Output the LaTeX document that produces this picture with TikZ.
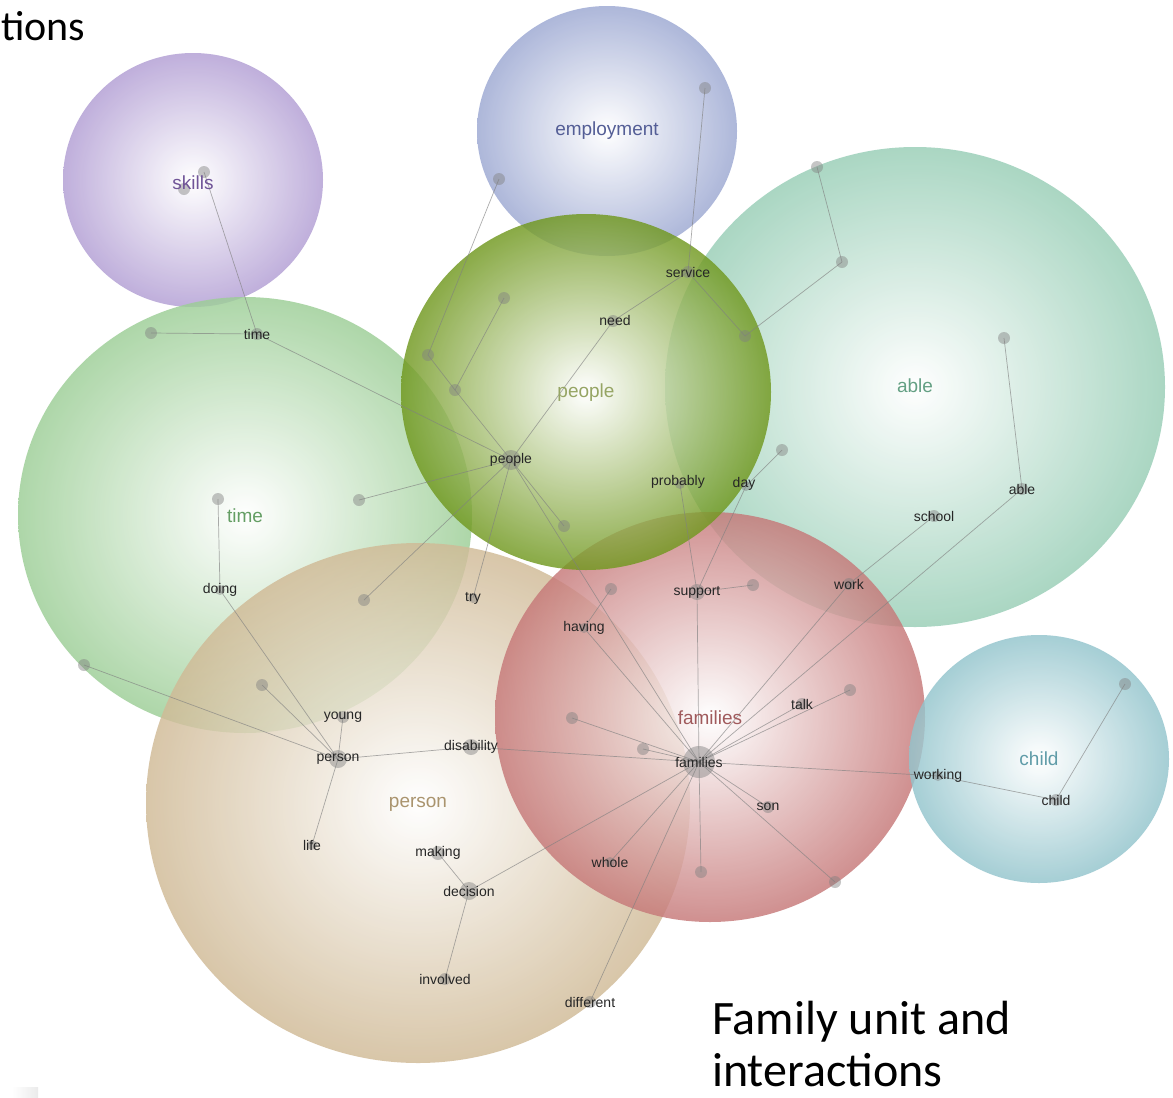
\documentclass[tikz,border=0pt]{standalone}
\usepackage{fontspec}
\setmainfont{Liberation Sans}
\newfontfamily\slidefont{Carlito}
\usepackage{xcolor}

% bubble colours and their label colours
\definecolor{skillsc}{RGB}{178,158,212}
\definecolor{employc}{RGB}{156,168,210}
\definecolor{ablec}{RGB}{152,206,182}
\definecolor{timec}{RGB}{156,206,150}
\definecolor{peoplec}{RGB}{112,152,30}
\definecolor{personc}{RGB}{208,186,150}
\definecolor{familyc}{RGB}{198,120,120}
\definecolor{childc}{RGB}{146,196,204}
\definecolor{skillsd}{RGB}{112,84,152}
\definecolor{employd}{RGB}{84,94,150}
\definecolor{abled}{RGB}{100,160,132}
\definecolor{timed}{RGB}{100,158,100}
\definecolor{peopled}{RGB}{150,165,100}
\definecolor{persond}{RGB}{170,148,110}
\definecolor{familyd}{RGB}{160,90,92}
\definecolor{childd}{RGB}{96,156,168}

\begin{document}
\begin{tikzpicture}[x=1pt, y=-1pt,
    bubble/.style={shading=radial, inner color=white, outer color=#1, fill opacity=0.82},
    cluster/.style={font=\fontsize{19}{19}\selectfont, inner sep=0pt},
    term/.style={font=\fontsize{14}{14}\selectfont, inner sep=0pt, text=black!85},
    slide/.style={font=\slidefont\fontsize{48}{48}\selectfont, inner sep=0pt},
    link/.style={draw=black!50, line width=0.7pt, draw opacity=0.65},
    dot/.style={fill=black!50, fill opacity=0.45}]

    \useasboundingbox (0,0) rectangle (1173,1098);
    \fill[white] (0,0) rectangle (1173,1098);

    % Bubbles
    \shade[bubble=skillsc] (193,180) ellipse[x radius=130pt, y radius=127pt];
    \shade[bubble=employc] (607,131) ellipse[x radius=130pt, y radius=125pt];
    \shade[bubble=timec] (245,515) ellipse[x radius=227pt, y radius=218pt];
    \shade[bubble=ablec] (915,387) ellipse[x radius=250pt, y radius=240pt];
    \shade[bubble=personc] (418,803) ellipse[x radius=272pt, y radius=260pt];
    \shade[bubble=familyc] (710,717) ellipse[x radius=215pt, y radius=205pt];
    \shade[bubble=peoplec] (586,392) ellipse[x radius=185pt, y radius=178pt];
    \shade[bubble=childc] (1039,759) ellipse[x radius=130pt, y radius=124pt];

    % Term positions
    \coordinate (sk1) at (204,172);
    \coordinate (sk2) at (184,189);
    \coordinate (wtime) at (257,334);
    \coordinate (t1) at (151,333);
    \coordinate (emp1) at (499,179);
    \coordinate (emp2) at (705,88);
    \coordinate (pp1) at (428,355);
    \coordinate (pp2) at (455,390);
    \coordinate (pp3) at (504,298);
    \coordinate (pp4) at (564,526);
    \coordinate (need) at (613,321);
    \coordinate (service) at (688,272);
    \coordinate (ab1) at (745,336);
    \coordinate (ab2) at (842,262);
    \coordinate (ab3) at (817,167);
    \coordinate (ab4) at (1004,338);
    \coordinate (wpeople) at (511,460);
    \coordinate (tm1) at (218,499);
    \coordinate (tm2) at (359,500);
    \coordinate (tm3) at (364,600);
    \coordinate (tm4) at (262,685);
    \coordinate (tm5) at (84,665);
    \coordinate (try) at (473,598);
    \coordinate (probably) at (680,484);
    \coordinate (day) at (746,486);
    \coordinate (dy1) at (782,450);
    \coordinate (support) at (697,592);
    \coordinate (sp1) at (753,585);
    \coordinate (hv1) at (611,589);
    \coordinate (having) at (584,628);
    \coordinate (doing) at (220,590);
    \coordinate (young) at (343,717);
    \coordinate (wperson) at (338,759);
    \coordinate (disability) at (471,747);
    \coordinate (life) at (312,845);
    \coordinate (making) at (438,853);
    \coordinate (decision) at (469,891);
    \coordinate (involved) at (445,979);
    \coordinate (different) at (590,1002);
    \coordinate (whole) at (610,862);
    \coordinate (wfamilies) at (699,762);
    \coordinate (fm1) at (572,718);
    \coordinate (fm2) at (643,749);
    \coordinate (fm3) at (701,872);
    \coordinate (fm4) at (835,882);
    \coordinate (fm5) at (850,690);
    \coordinate (son) at (768,807);
    \coordinate (talk) at (802,704);
    \coordinate (work) at (849,584);
    \coordinate (school) at (934,516);
    \coordinate (wable) at (1022,489);
    \coordinate (working) at (938,776);
    \coordinate (wchild) at (1056,800);
    \coordinate (ch1) at (1125,684);

    % Links
    \foreach \a/\b in {sk1/wtime, t1/wtime, wtime/wpeople, emp1/pp1, pp1/pp2, pp3/pp2,
        pp2/wpeople, emp2/service, service/need, need/wpeople, service/ab1, ab1/ab2,
        ab2/ab3, tm2/wpeople, tm3/wpeople, try/wpeople, pp4/wpeople, wpeople/wfamilies,
        probably/support, dy1/day, day/support, support/sp1, support/wfamilies,
        hv1/having, having/wfamilies, tm1/doing, doing/wperson, tm4/wperson,
        tm5/wperson, young/wperson, life/wperson, wperson/disability,
        disability/wfamilies, making/decision, decision/involved, decision/wfamilies,
        wfamilies/whole, wfamilies/different, wfamilies/fm1, wfamilies/fm2,
        wfamilies/fm3, wfamilies/fm4, wfamilies/son, wfamilies/talk, wfamilies/fm5,
        wfamilies/work, work/school, wfamilies/wable, ab4/wable, wfamilies/working,
        working/wchild, wchild/ch1}
        \draw[link] (\a) -- (\b);

    % Dots
    \foreach \p/\r in {sk1/6, sk2/6, wtime/6, t1/6, emp1/6, emp2/6, pp1/6, pp2/6,
        pp3/6, pp4/6, need/6, service/6, ab1/6, ab2/6, ab3/6, ab4/6, wpeople/10,
        tm1/6, tm2/6, tm3/6, tm4/6, tm5/6, try/5, probably/5, day/5, dy1/6,
        support/8, sp1/6, hv1/6, having/5, doing/5, young/6, wperson/9,
        disability/8, life/5, making/7, decision/9, involved/6, different/6,
        whole/5, wfamilies/16, fm1/6, fm2/6, fm3/6, fm4/6, fm5/6, son/6, talk/6,
        work/6, school/6, wable/6, working/5, wchild/6, ch1/6}
        \fill[dot] (\p) circle[radius=\r pt];

    % Bubble labels
    \node[cluster, text=skillsd] (lskills) at (193,183) {skills};
    \node[cluster, text=employd] (lemploy) at (607,131) {employment};
    \node[cluster, text=abled] (lable) at (915,386) {able};
    \node[cluster, text=timed] (ltime) at (245,516) {time};
    \node[cluster, text=peopled] (lpeople) at (586,393) {people};
    \node[cluster, text=persond] (lperson) at (418,804) {person};
    \node[cluster, text=familyd] (lfamilies) at (710,718) {families};
    \node[cluster, text=childd] (lchild) at (1039,759) {child};

    % Term labels
    \node[term] (xtime) at (wtime) {time};
    \node[term] (xneed) at (615,320) {need};
    \node[term] (xservice) at (service) {service};
    \node[term] (xpeople) at (wpeople) {people};
    \node[term] (xprobably) at (678,482) {probably};
    \node[term] (xday) at (744,484) {day};
    \node[term] (xtry) at (try) {try};
    \node[term] (xsupport) at (support) {support};
    \node[term] (xhaving) at (having) {having};
    \node[term] (xdoing) at (doing) {doing};
    \node[term] (xyoung) at (young) {young};
    \node[term] (xperson) at (wperson) {person};
    \node[term] (xdisability) at (disability) {disability};
    \node[term] (xlife) at (life) {life};
    \node[term] (xmaking) at (making) {making};
    \node[term] (xdecision) at (decision) {decision};
    \node[term] (xinvolved) at (involved) {involved};
    \node[term] (xdifferent) at (different) {different};
    \node[term] (xwhole) at (whole) {whole};
    \node[term] (xfamilies) at (wfamilies) {families};
    \node[term] (xson) at (son) {son};
    \node[term] (xtalk) at (talk) {talk};
    \node[term] (xwork) at (work) {work};
    \node[term] (xschool) at (school) {school};
    \node[term] (xable) at (wable) {able};
    \node[term] (xworking) at (working) {working};
    \node[term] (xchild) at (wchild) {child};

    % Slide text
    \node[slide, font=\slidefont\fontsize{42}{42}\selectfont, anchor=base west] (tions) at (1,40) {tions};
    \node[slide, anchor=base west] (caption1) at (712,1034) {Family unit and};
    \node[slide, anchor=base west] (caption2) at (712,1086) {interactions};
    \shade[left color=white, right color=black!8] (12,1087) rectangle (38,1098);
\end{tikzpicture}
\end{document}
